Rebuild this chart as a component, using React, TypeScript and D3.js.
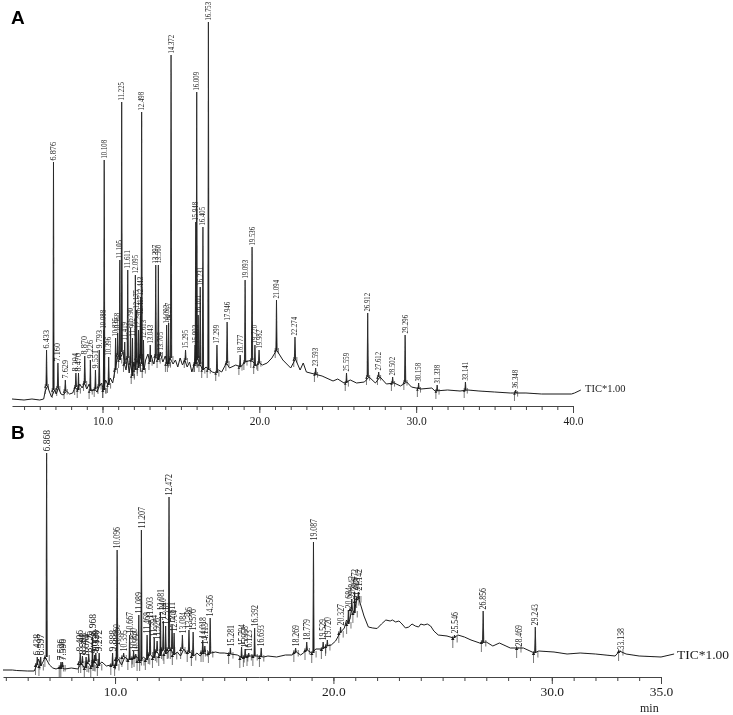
import { useEffect, useRef } from 'react';
import * as d3 from 'd3';

// panel A, total ion chromatogram: retention time (min) and height above baseline
const aTraceTimes = [4.23, 5, 5.5, 6, 6.25, 6.35, 6.5, 6.6, 6.75, 6.95, 7.05, 7.2, 7.35, 7.5, 7.7, 7.9, 8.1, 8.25, 8.4, 8.55, 8.7, 8.85, 9, 9.15, 9.3, 9.5, 9.65, 9.8, 9.95, 10.05, 10.2, 10.35, 10.5, 10.65, 10.8, 10.9, 11, 11.1, 11.3, 11.4, 11.5, 11.6, 11.7, 11.8, 11.9, 12, 12.1, 12.2, 12.3, 12.4, 12.55, 12.65, 12.75, 12.9, 13, 13.1, 13.25, 13.4, 13.55, 13.7, 13.85, 14, 14.15, 14.3, 14.5, 14.65, 14.8, 14.95, 15.1, 15.25, 15.4, 15.55, 15.7, 15.85, 16.05, 16.2, 16.4, 16.6, 16.85, 17, 17.2, 17.4, 17.6, 17.9, 18.1, 18.5, 18.8, 19.1, 19.5, 19.8, 20, 20.2, 20.5, 20.8, 21.1, 21.5, 22, 22.3, 22.6, 22.8, 23, 23.5, 24, 24.7, 25, 25.4, 25.8, 26.2, 26.7, 27, 27.4, 27.7, 28.1, 28.6, 29, 29.4, 29.7, 30.3, 31, 31.2, 32, 32.8, 33.3, 34, 35, 36, 37, 38, 39.9, 40.1, 40.5];
const aTraceHeights = [1, 0, 1, 0, 1, 9, 14, 9, 3, 10, 6, 12, 6, 5, 9, 6, 7, 13, 10, 16, 12, 17, 11, 16, 9, 11, 8, 14, 17, 10, 20, 15, 22, 17, 30, 38, 45, 40, 48, 36, 30, 42, 27, 37, 24, 38, 30, 42, 32, 44, 36, 30, 40, 46, 38, 45, 36, 44, 40, 46, 38, 44, 36, 42, 36, 40, 33, 42, 35, 40, 33, 38, 28, 36, 42, 36, 30, 33, 30, 28, 27, 30, 28, 37, 32, 35, 33, 38, 40, 34, 37, 35, 37, 42, 50, 40, 32, 41, 30, 37, 28, 26, 24, 19, 21, 17, 20, 17, 18, 23, 17, 23, 16, 17, 14, 18, 13, 11, 12, 9, 10, 9, 10, 9, 8, 7, 7, 6, 6, 7, 10];
const aPeakLabels = ['6.433', '6.876', '7.160', '7.629', '8.304', '8.470', '8.870', '9.226', '9.551', '9.793', '10.088', '10.108', '10.396', '10.835', '10.968', '11.105', '11.225', '11.419', '11.611', '11.790', '11.912', '12.095', '12.175', '12.298', '12.417', '12.443', '12.498', '12.613', '13.043', '13.397', '13.560', '13.705', '14.093', '14.217', '14.372', '15.295', '15.903', '15.948', '16.009', '16.101', '16.231', '16.405', '16.753', '17.299', '17.946', '18.777', '19.093', '19.536', '19.720', '19.982', '21.094', '22.274', '23.593', '25.559', '26.912', '27.612', '28.502', '29.296', '30.158', '31.338', '33.141', '36.348'];
const aPeakHeights = [50, 238, 37, 20, 27, 27, 44, 40, 30, 50, 70, 240, 43, 62, 67, 140, 298, 58, 130, 72, 62, 125, 90, 70, 84, 103, 288, 60, 55, 135, 135, 48, 75, 77, 345, 50, 55, 178, 308, 85, 113, 173, 378, 55, 78, 45, 120, 153, 55, 50, 100, 63, 32, 27, 87, 28, 23, 65, 17, 15, 18, 10];
const aTicks = d3.range(5, 41);
const aMajorTicks = [10, 20, 30, 40];

// panel B
const bTraceTimes = [4.87, 5.3, 5.5, 6, 6.3, 6.42, 6.5, 6.6, 6.7, 6.8, 7, 7.15, 7.3, 7.5, 7.7, 8, 8.3, 8.45, 8.6, 8.75, 8.9, 9.05, 9.2, 9.4, 9.6, 9.8, 10, 10.15, 10.3, 10.45, 10.6, 10.8, 11, 11.15, 11.3, 11.45, 11.6, 11.75, 11.9, 12.05, 12.2, 12.35, 12.55, 12.7, 12.85, 13, 13.15, 13.3, 13.45, 13.6, 13.75, 13.9, 14.05, 14.2, 14.4, 14.6, 14.8, 15, 15.3, 15.6, 15.85, 16, 16.2, 16.5, 16.8, 17, 17.4, 17.8, 18.1, 18.3, 18.5, 18.8, 19, 19.2, 19.5, 19.7, 19.9, 20.1, 20.3, 20.5, 20.6, 20.7, 20.85, 20.95, 21.05, 21.15, 21.25, 21.4, 21.6, 21.8, 22, 22.2, 22.4, 22.6, 22.7, 22.85, 23, 23.1, 23.3, 23.45, 23.6, 23.75, 23.9, 24, 24.15, 24.3, 24.45, 24.6, 24.8, 25.2, 25.5, 25.7, 26, 26.3, 26.7, 27, 27.3, 27.6, 28.1, 28.7, 29.2, 29.4, 30.1, 30.7, 31.3, 32, 32.9, 33.1, 33.4, 34, 35, 35.6];
const bTraceHeights = [1, 1, 0.5, 0, 0, 6, 12, 5, 9, 14, 6, 3, 2, 4, 2, 3, 2, 8, 3, 9, 4, 10, 5, 9, 5, 6, 5, 12, 6, 14, 11, 13, 14, 10, 14, 11, 17, 13, 20, 15, 22, 17, 22, 16, 19, 15, 22, 17, 19, 15, 18, 15, 19, 16, 18, 19, 18, 18, 17, 16, 13, 14, 15, 15, 14, 15, 14, 16, 16, 19, 16, 21, 18, 22, 22, 25, 26, 30, 38, 43, 51, 47, 62, 58, 70, 73, 66, 55, 44, 43, 42.5, 47, 51, 50, 51, 49, 50, 48, 43, 44, 47, 45, 44, 47, 46, 47, 45, 40, 36, 35, 33, 36, 34, 31, 28, 29, 25, 28, 23, 23, 18, 20, 19, 17, 18, 17, 15, 20, 17, 15, 14, 17];
const bPeakLabels = ['6.438', '6.597', '6.868', '7.526', '7.596', '8.406', '8.508', '8.674', '8.796', '8.968', '9.068', '9.120', '9.272', '9.888', '10.060', '10.096', '10.395', '10.667', '10.850', '10.950', '11.089', '11.207', '11.468', '11.603', '11.794', '11.926', '12.081', '12.210', '12.318', '12.472', '12.611', '12.704', '13.084', '13.386', '13.576', '14.018', '14.113', '14.356', '15.281', '15.794', '15.958', '16.123', '16.392', '16.693', '18.269', '18.779', '19.087', '19.529', '19.720', '20.327', '20.684', '20.842', '20.972', '21.048', '21.142', '25.546', '26.856', '28.469', '29.243', '33.138'];
const bPeakHeights = [14, 14, 218, 9, 9, 18, 15, 14, 17, 34, 16, 18, 18, 18, 24, 121, 18, 36, 20, 17, 56, 141, 36, 51, 33, 30, 59, 50, 45, 174, 46, 38, 36, 41, 39, 31, 25, 53, 23, 24, 22, 18, 43, 23, 23, 29, 129, 29, 31, 44, 61, 72, 79, 70, 79, 36, 60, 23, 44, 20];
const bTicks = d3.range(5, 36);
const bMajorTicks = [10, 20, 30, 35];

const ink = '#1c1c1c';
const serif = '"Liberation Serif", "Times New Roman", serif';

const drawPanel = (root: any, o: any) => {
  const x = d3.scaleLinear().domain(o.xDomain).range(o.xRange);
  const y = d3.scaleLinear().domain(o.yDomain).range(o.yRange);
  const g = root.append('g').attr('filter', 'url(#soft)');

  // nearest point on the trace, peaks stand on it
  const near = d3.bisector((t: number) => t).center;
  const footOf = (t: number) => o.traceHeights[near(o.traceTimes, t)];

  const line = d3.line<number>()
    .x(d => x(o.traceTimes[d]))
    .y(d => y(o.traceHeights[d]));

  g.append('path')
    .attr('d', line(d3.range(o.traceTimes.length)))
    .attr('fill', 'none')
    .attr('stroke', ink)
    .attr('stroke-width', 1);

  const peaks = g.selectAll('.peak').data(o.peakLabels).enter().append('g').attr('class', 'peak');

  // narrow triangle, wider at the foot than the tip
  const peakShape = (d: string, i: number) => {
    const p = d3.path();
    p.moveTo(x(+d - o.peakWidth), y(footOf(+d)));
    p.lineTo(x(+d), y(o.peakHeights[i]));
    p.lineTo(x(+d + o.peakWidth), y(footOf(+d)));
    return p.toString();
  };
  peaks.append('path')
    .attr('d', peakShape)
    .attr('fill', ink)
    .attr('stroke', ink)
    .attr('stroke-width', 0.8);

  // integration marks: long one before the peak, short one after it
  const marks = [{ dt: -0.08, len: 1 }, { dt: 0.12, len: 0.45 }];
  marks.forEach(m => {
    peaks.append('line')
      .attr('x1', (d: string) => x(+d + m.dt))
      .attr('x2', (d: string) => x(+d + m.dt))
      .attr('y1', (d: string) => y(footOf(+d)) - 2)
      .attr('y2', (d: string) => y(footOf(+d)) + o.markLength * m.len)
      .attr('stroke', ink)
      .attr('stroke-width', 0.6);
  });

  peaks.append('path')
    .attr('d', d3.symbol().type(d3.symbolTriangle).size(o.markHead))
    .attr('transform', (d: string) => `translate(${x(+d + marks[0].dt)},${y(footOf(+d)) + 1})`)
    .attr('fill', ink);

  peaks.append('text')
    .text((d: string) => d)
    .attr('transform', (d: string, i: number) => `translate(${x(+d) + o.labelShift},${y(o.peakHeights[i]) - 1.5}) rotate(-90)`)
    .attr('font-family', serif)
    .attr('font-size', o.labelSize)
    .attr('textLength', o.labelLength)
    .attr('lengthAdjust', 'spacingAndGlyphs')
    .attr('fill', '#222');

  const axisG = g.append('g').attr('transform', `translate(0,${o.axisY})`);
  const minor = axisG.append('g').call(
    d3.axisBottom(x).tickValues(o.ticks).tickSize(4).tickSizeOuter(0).tickFormat(() => '')
  );
  const major = axisG.append('g').call(
    d3.axisBottom(x).tickValues(o.majorTicks).tickSize(7).tickSizeOuter(0).tickFormat(d3.format('.1f') as any).tickPadding(o.tickPad)
  );
  major.select('.domain').remove();
  minor.selectAll('.domain, line').attr('stroke', '#444');
  major.selectAll('line').attr('stroke', '#444');
  major.selectAll('text')
    .attr('font-family', serif)
    .attr('font-size', o.tickSize)
    .attr('fill', ink);

  g.append('text')
    .text('TIC*1.00')
    .attr('x', o.ticX)
    .attr('y', o.ticY)
    .attr('font-family', serif)
    .attr('font-size', o.ticSize)
    .attr('fill', ink);
};

const App = () => {
  const ref = useRef<SVGSVGElement>(null);

  useEffect(() => {
    const svg = d3.select(ref.current);
    svg.selectAll('*').remove();

    svg.append('defs').append('filter').attr('id', 'soft')
      .append('feGaussianBlur').attr('stdDeviation', 0.3);

    drawPanel(svg, {
      xDomain: [4.23, 40], xRange: [12, 573],
      yDomain: [0, 378], yRange: [400, 22],
      traceTimes: aTraceTimes, traceHeights: aTraceHeights,
      peakLabels: aPeakLabels, peakHeights: aPeakHeights,
      ticks: aTicks, majorTicks: aMajorTicks,
      axisY: 406, tickSize: 11.5, tickPad: 4,
      labelSize: 7.4, labelLength: 18.5, labelShift: 2.5,
      markLength: 8, markHead: 3, peakWidth: 0.04,
      ticX: 585, ticY: 392, ticSize: 10.5,
    });

    drawPanel(svg, {
      xDomain: [4.87, 35], xRange: [3, 661],
      yDomain: [0, 218], yRange: [671, 453],
      traceTimes: bTraceTimes, traceHeights: bTraceHeights,
      peakLabels: bPeakLabels, peakHeights: bPeakHeights,
      ticks: bTicks, majorTicks: bMajorTicks,
      axisY: 677, tickSize: 13.5, tickPad: 2,
      labelSize: 10, labelLength: 21.5, labelShift: 3.2,
      markLength: 10, markHead: 5, peakWidth: 0.03,
      ticX: 677, ticY: 659, ticSize: 13.5,
    });

    svg.append('text').text('min')
      .attr('x', 640).attr('y', 712)
      .attr('font-family', serif).attr('font-size', 12).attr('fill', ink);

    const letters = [['A', 11, 24], ['B', 11, 439]] as const;
    svg.selectAll('.panelLetter').data(letters).enter().append('text')
      .attr('class', 'panelLetter')
      .text(d => d[0])
      .attr('x', d => d[1])
      .attr('y', d => d[2])
      .attr('font-family', '"Liberation Sans", Arial, sans-serif')
      .attr('font-weight', 700)
      .attr('font-size', 19)
      .attr('fill', '#000');
  }, []);

  return (
    <svg
      ref={ref}
      width={733}
      height={715}
      style={{ position: 'absolute', left: 0, top: 0, background: '#fff' }}
    />
  );
};

export default App;
